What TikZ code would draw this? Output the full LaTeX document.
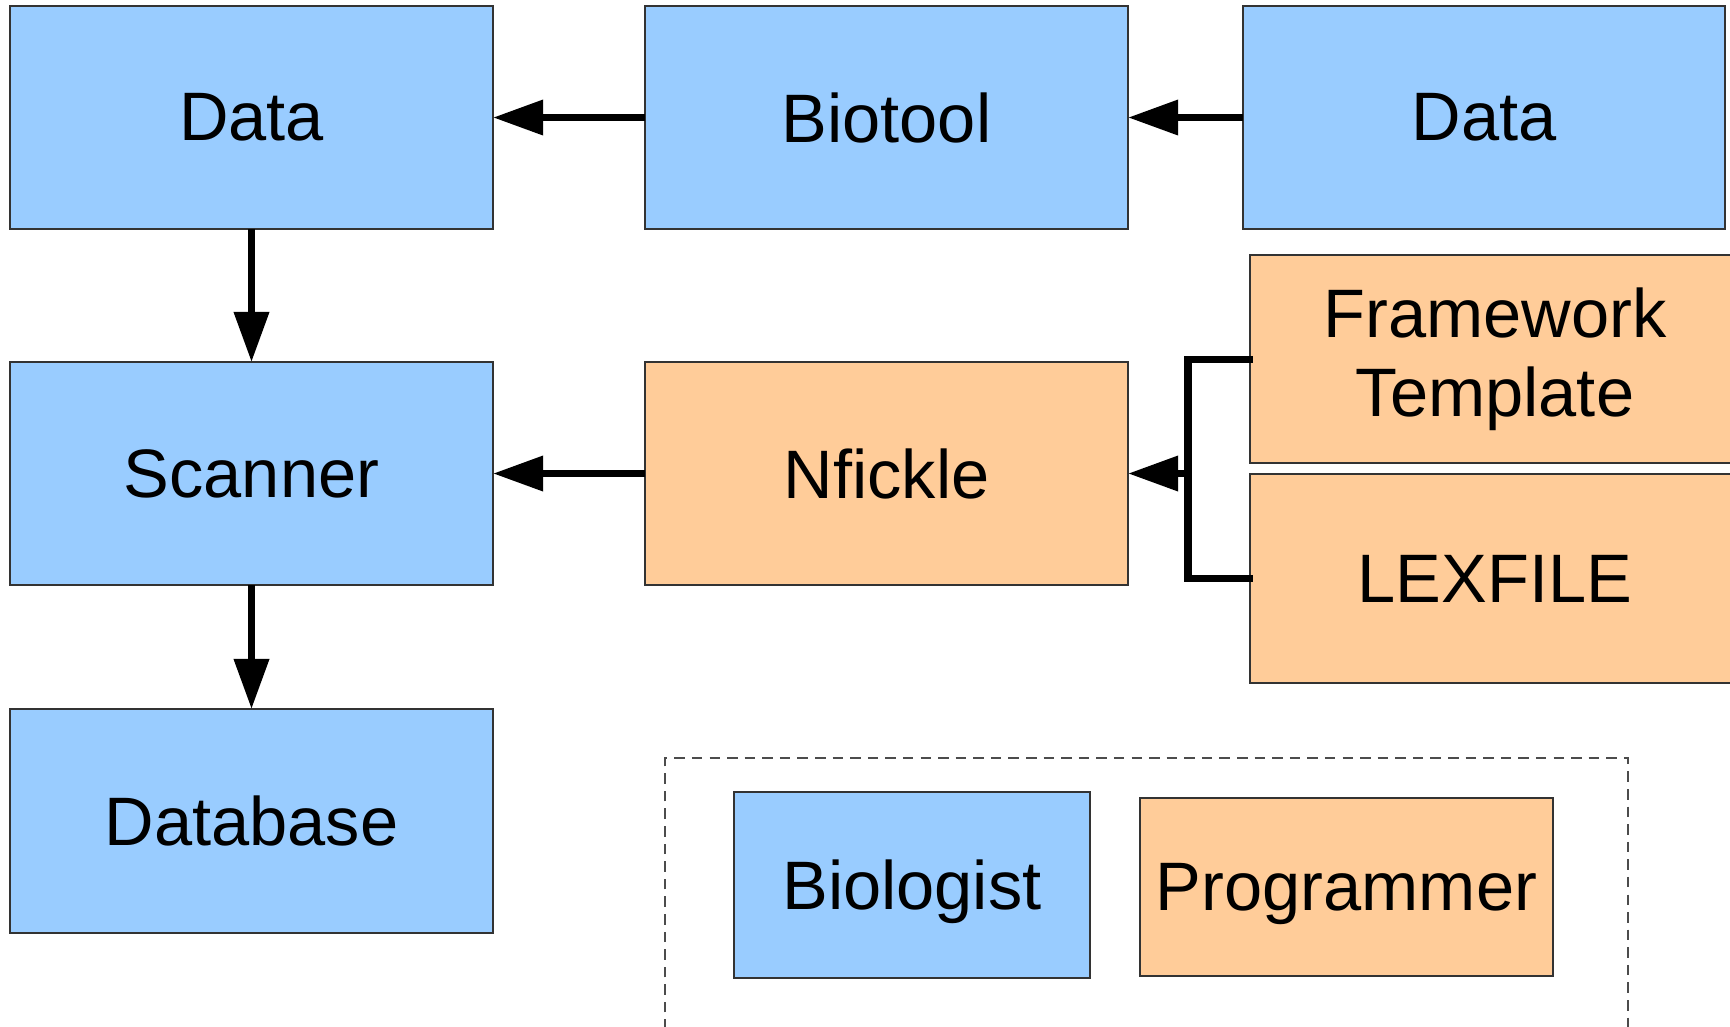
\documentclass[tikz,border=0pt]{standalone}
\usepackage{fontspec}
\setmainfont{Liberation Sans}
\usetikzlibrary{arrows.meta}
\definecolor{bioblue}{RGB}{153,204,255}
\definecolor{progorange}{RGB}{255,204,153}
\begin{document}
\begin{tikzpicture}[x=0.01cm,y=-0.01cm,
    box/.style={draw=black!80,line width=0.5pt,inner sep=0pt,outer sep=0pt,
      font=\fontsize{19.5}{22.5}\selectfont,align=center},
    biobox/.style={box,fill=bioblue},
    progbox/.style={box,fill=progorange},
    flow/.style={line width=2pt,-{Triangle[length=0.5cm,width=0.34cm]}},
    branch/.style={line width=2pt,line cap=rect}]
  \useasboundingbox (0,0) rectangle (1730,1026);

  \node[biobox,minimum width=4.83cm,minimum height=2.23cm] (data) at (251.5,117.5) {Data};
  \node[biobox,minimum width=4.83cm,minimum height=2.23cm] (biotool) at (886.5,117.5) {Biotool};
  \node[biobox,minimum width=4.82cm,minimum height=2.23cm] (rawdata) at (1484,117.5) {Data};
  \node[biobox,minimum width=4.83cm,minimum height=2.23cm] (scanner) at (251.5,473.5) {Scanner};
  \node[progbox,minimum width=4.83cm,minimum height=2.23cm] (nfickle) at (886.5,473.5) {Nfickle};
  \node[biobox,minimum width=4.83cm,minimum height=2.24cm] (database) at (251.5,821) {Database};
  \node[progbox,minimum width=4.9cm,minimum height=2.08cm] (framework) at (1495,359) {Framework\\Template};
  \node[progbox,minimum width=4.9cm,minimum height=2.09cm] (lexfile) at (1495,578.5) {LEXFILE};
  \coordinate (join) at (1188,473.5);

  \draw[flow] (biotool) -- (data);
  \draw[flow] (rawdata) -- (biotool);
  \draw[flow] (data) -- (scanner);
  \draw[flow] (scanner) -- (database);
  \draw[flow] (nfickle) -- (scanner);
  \draw[branch] (framework.west) -| (join) |- (lexfile.west);
  \draw[flow] (join) -- (nfickle);

  % legend
  \draw[black!70,line width=0.4pt,dash pattern=on 3pt off 2pt]
    (665,1030) -- (665,758) -- (1628,758) -- (1628,1030);
  \node[biobox,text depth=0pt,minimum width=3.56cm,minimum height=1.86cm] (biologist) at (912,885) {Biologist};
  \node[progbox,text depth=0pt,minimum width=4.13cm,minimum height=1.78cm] (programmer) at (1346.5,887) {Programmer};
\end{tikzpicture}
\end{document}
